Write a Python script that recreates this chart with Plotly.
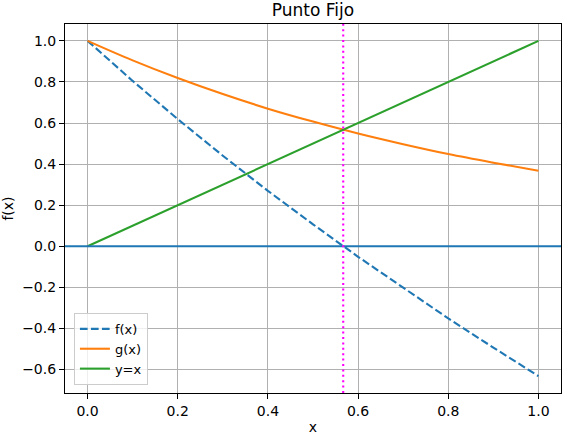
import plotly.graph_objects as go

# values
x_vals = [0.0, 0.1, 0.2, 0.3, 0.4, 0.5, 0.6, 0.7, 0.8, 0.9, 1.0]
f_vals = [1.0, 0.805, 0.619, 0.441, 0.270, 0.107, -0.051, -0.203, -0.351, -0.493, -0.632]
g_vals = [1.0, 0.905, 0.819, 0.741, 0.670, 0.607, 0.549, 0.497, 0.449, 0.407, 0.368]
yx_vals = [0.0, 0.1, 0.2, 0.3, 0.4, 0.5, 0.6, 0.7, 0.8, 0.9, 1.0]
fixed_point = 0.567
x_ticks = [0.0, 0.2, 0.4, 0.6, 0.8, 1.0]
y_ticks = [-0.6, -0.4, -0.2, 0.0, 0.2, 0.4, 0.6, 0.8, 1.0]

font = "DejaVu Sans"
lw = 2.1

fig = go.Figure()
fig.add_trace(go.Scatter(x=x_vals, y=f_vals, mode="lines", name="f(x)",
                         line=dict(color="#1f77b4", width=lw, dash="7.7px,3.3px")))
fig.add_trace(go.Scatter(x=x_vals, y=g_vals, mode="lines", name="g(x)",
                         line=dict(color="#ff7f0e", width=lw), line_shape="spline"))
fig.add_trace(go.Scatter(x=x_vals, y=yx_vals, mode="lines", name="y=x",
                         line=dict(color="#2ca02c", width=lw)))

fig.add_hline(y=0, line=dict(color="#1f77b4", width=lw))
fig.add_vline(x=fixed_point, line=dict(color="magenta", width=lw, dash="2px,3.4px"))

axis_common = dict(
    showgrid=True, gridcolor="#b0b0b0", gridwidth=1.1,
    showline=True, linecolor="black", linewidth=1.1, mirror=True,
    ticks="outside", ticklen=5, tickwidth=1.1, tickcolor="black",
    zeroline=False, automargin=False,
    tickfont=dict(family=font, size=14, color="black"),
)

fig.update_layout(
    width=566, height=436,
    margin=dict(l=65, r=5, t=24, b=43),
    paper_bgcolor="white", plot_bgcolor="white",
    font=dict(family=font, size=14, color="black"),
    title=dict(text="Punto Fijo", x=0.5, xref="paper", y=0.978, yanchor="middle",
               font=dict(family=font, size=17, color="black"), automargin=False),
    xaxis=dict(axis_common, range=[-0.05, 1.05], tickvals=x_ticks,
               ticktext=[f"{v:.1f}" for v in x_ticks],
               title=dict(text="x", standoff=4, font=dict(family=font, size=14))),
    yaxis=dict(axis_common, range=[-0.714, 1.082], tickvals=y_ticks,
               ticktext=[f"{v:.1f}".replace("-", "\u2212") for v in y_ticks],
               title=dict(text="f(x)", standoff=6, font=dict(family=font, size=14))),
    legend=dict(x=0.018, y=0.022, xanchor="left", yanchor="bottom",
                bgcolor="rgba(255,255,255,0.8)", bordercolor="#cccccc", borderwidth=1,
                font=dict(family=font, size=13), tracegroupgap=0, itemwidth=30),
    showlegend=True,
)

# the page's default body margin would shift the figure by 8px
fig.write_html("out.html", config={"displayModeBar": False},
               post_script="document.body.style.margin='0';")
